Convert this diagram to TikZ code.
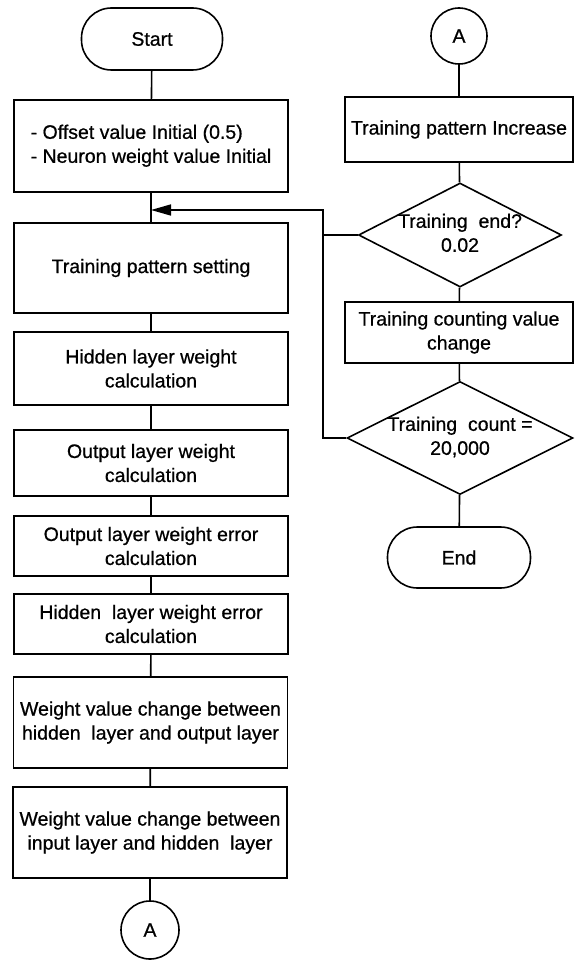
\documentclass[tikz,border=0pt]{standalone}
\usepackage{fontspec}
\setmainfont{Liberation Sans}[FakeBold=0.7]
\usetikzlibrary{shapes.geometric,arrows.meta}
\begin{document}
\begin{tikzpicture}[x=1pt,y=-1pt, line width=1.6pt,
  every node/.style={font=\fontsize{19.5}{24}\selectfont, align=center},
  procbox/.style={draw, rectangle, inner sep=2pt},
  term/.style={draw, rectangle, rounded corners=30pt, inner sep=2pt},
  conn/.style={draw, circle, inner sep=0pt},
  decision/.style={draw, diamond, inner sep=0pt, aspect=1},
  link/.style={draw, line width=1.6pt},
  loopar/.style={draw, line width=1.6pt, -{Triangle[length=20pt,width=11pt]}}
]
\useasboundingbox (0,0) rectangle (576,960);
% left column
\node[term, minimum width=141pt, minimum height=62pt] (start) at (152,39) {Start};
\node[procbox, minimum width=274pt, minimum height=92pt] (init) at (151,146)
  {\begin{tabular}{@{}l@{}}- Offset value Initial (0.5)\\- Neuron weight value Initial\end{tabular}};
\node[procbox, minimum width=274pt, minimum height=90pt] (setting) at (151,268) {Training pattern setting};
\node[procbox, minimum width=274pt, minimum height=73pt] (hid) at (151,368.5) {Hidden layer weight\\calculation};
\node[procbox, minimum width=274pt, minimum height=66pt] (out) at (151,463) {Output layer weight\\calculation};
\node[procbox, minimum width=274pt, minimum height=60pt] (outerr) at (151,546) {Output layer weight error\\calculation};
\node[procbox, minimum width=274pt, minimum height=60pt] (hiderr) at (151,624) {Hidden~ layer weight error\\calculation};
\node[procbox, minimum width=274pt, minimum height=91pt] (wc1) at (150.5,722.5) {Weight value change between\\hidden~ layer and output layer};
\node[procbox, minimum width=274pt, minimum height=91pt] (wc2) at (150,832.5) {Weight value change between\\input layer and hidden~ layer};
\node[conn, minimum size=58pt] (abot) at (150,930) {A};
% right column
\node[conn, minimum size=56pt] (atop) at (459,36) {A};
\node[procbox, minimum width=228pt, minimum height=65pt] (inc) at (459,129.5) {Training pattern Increase};
\node[decision, minimum width=203pt, minimum height=104pt] (d1) at (460,235)
  {\makebox[0pt]{\begin{tabular}{@{}c@{}}Training~ end?\\0.02\end{tabular}}};
\node[procbox, minimum width=228pt, minimum height=61pt] (cnt) at (459,332.5) {Training counting value\\change};
\node[decision, minimum width=226pt, minimum height=113pt] (d2) at (460,438)
  {\makebox[0pt]{\begin{tabular}{@{}c@{}}Training~ count =\\20,000\end{tabular}}};
\node[term, minimum width=143pt, minimum height=61pt] (end) at (459,557.5) {End};
\coordinate (loopx) at (323,210);
% connectors
\path[link] (start) -- (init);
\path[link] (init) -- (setting);
\path[link] (setting) -- (hid);
\path[link] (hid) -- (out);
\path[link] (out) -- (outerr);
\path[link] (outerr) -- (hiderr);
\path[link] (hiderr) -- (wc1);
\path[link] (wc1) -- (wc2);
\path[link] (wc2) -- (abot);
\path[link] (atop) -- (inc);
\path[link] (inc) -- (d1);
\path[link] (d1) -- (cnt);
\path[link] (cnt) -- (d2);
\path[link] (d2) -- (end);
\path[loopar] (d2.west) -| (loopx) -- (loopx -| init.south);
\path[link] (d1.west) -- (d1.west -| loopx);
\end{tikzpicture}
\end{document}
